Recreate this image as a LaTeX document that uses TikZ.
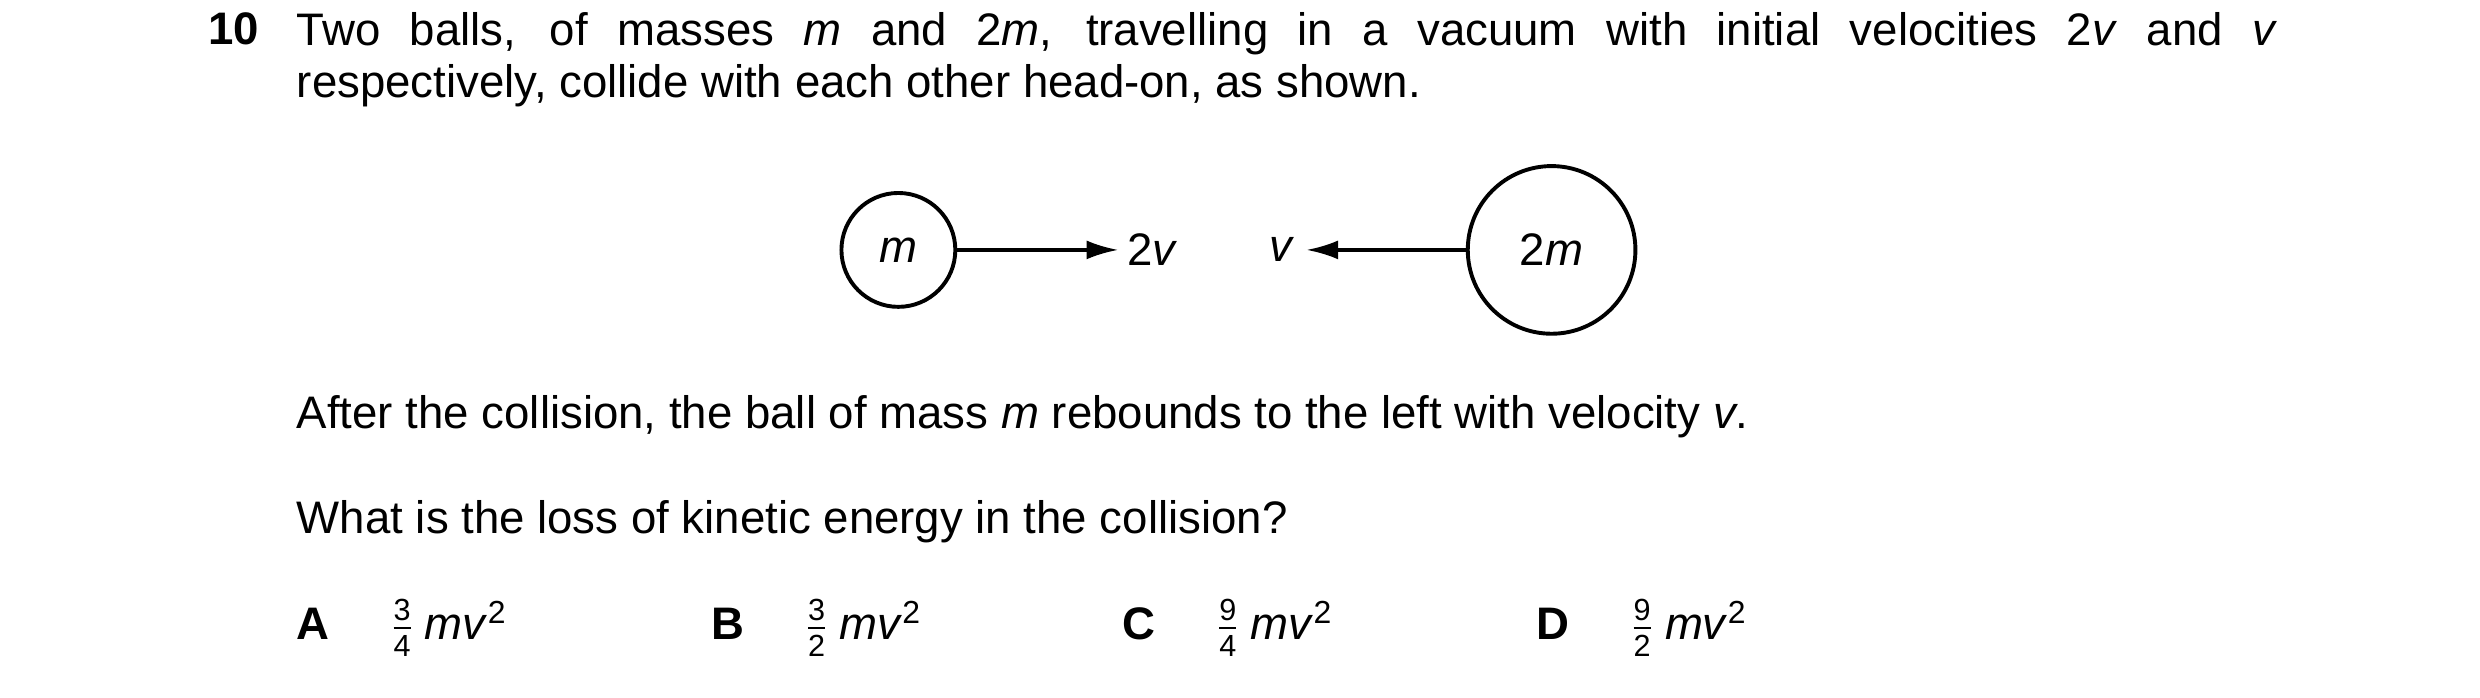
\documentclass[tikz,border=0pt]{standalone}
\usepackage{fontspec}
\setmainfont{Liberation Sans}
\usetikzlibrary{arrows.meta,positioning}
\newcommand{\qfr}[2]{$\frac{\mbox{\fontsize{5.5}{5.5}\selectfont #1}}{\mbox{\fontsize{5.5}{5.5}\selectfont #2}}$}
\newcommand{\ivar}[1]{\textit{#1}}
\tikzset{
  txt/.style={inner sep=0pt,font=\fontsize{8.2}{9.4}\selectfont},
  ball/.style={circle,draw,line width=0.7pt,inner sep=0pt,font=\fontsize{8.2}{9}\selectfont},
  vel/.style={line width=0.6pt,-{Latex[length=2mm,width=1.2mm]}},
}
\begin{document}
\begin{tikzpicture}
\useasboundingbox (0,0) rectangle (15.68,-4.41);
% question text
\node[txt,anchor=base west,font=\fontsize{8.2}{9}\bfseries] (num) at (1.31,-0.28) {10};
\node[txt,anchor=north west,text width=12.52cm,align=justify] (stem) at (1.87,-0.07)
  {Two balls, of masses \ivar{m} and 2\ivar{m}, travelling in a vacuum with initial velocities 2\ivar{v} and \ivar{v}\linebreak
   respectively, collide with each other head-on, as shown.};
% balls
\node[ball,minimum size=0.72cm] (small) at (5.68,-1.58) {\ivar{m}};
\node[ball,minimum size=1.06cm] (big) at (9.81,-1.58) {2\ivar{m}};
\coordinate (tipA) at (7.07,-1.58);
\coordinate (tipB) at (8.26,-1.58);
\draw[vel] (small.east) -- (tipA);
\draw[vel] (big.west) -- (tipB);
\node[txt,right=0.05cm of tipA] (lblA) {2\ivar{v}};
\node[txt,left=0.07cm of tipB] (lblB) {\ivar{v}};
% further text
\node[txt,anchor=base west] (after) at (1.87,-2.71) {After the collision, the ball of mass \ivar{m} rebounds to the left with velocity \ivar{v}.};
\node[txt,anchor=base west] (ask) at (1.87,-3.37) {What is the loss of kinetic energy in the collision?};
% options
\foreach \k/\x/\a/\b in {A/1.87/3/4,B/4.49/3/2,C/7.09/9/4,D/9.71/9/2} {
  \node[txt,anchor=base west,font=\fontsize{8.2}{9}\bfseries] (opt\k) at (\x,-4.04) {\k};
  \node[txt,anchor=base west] (ans\k) at (\x+0.57,-4.04) {\qfr{\a}{\b}\,\ivar{mv}\textsuperscript{2}};
}
\end{tikzpicture}
\end{document}
